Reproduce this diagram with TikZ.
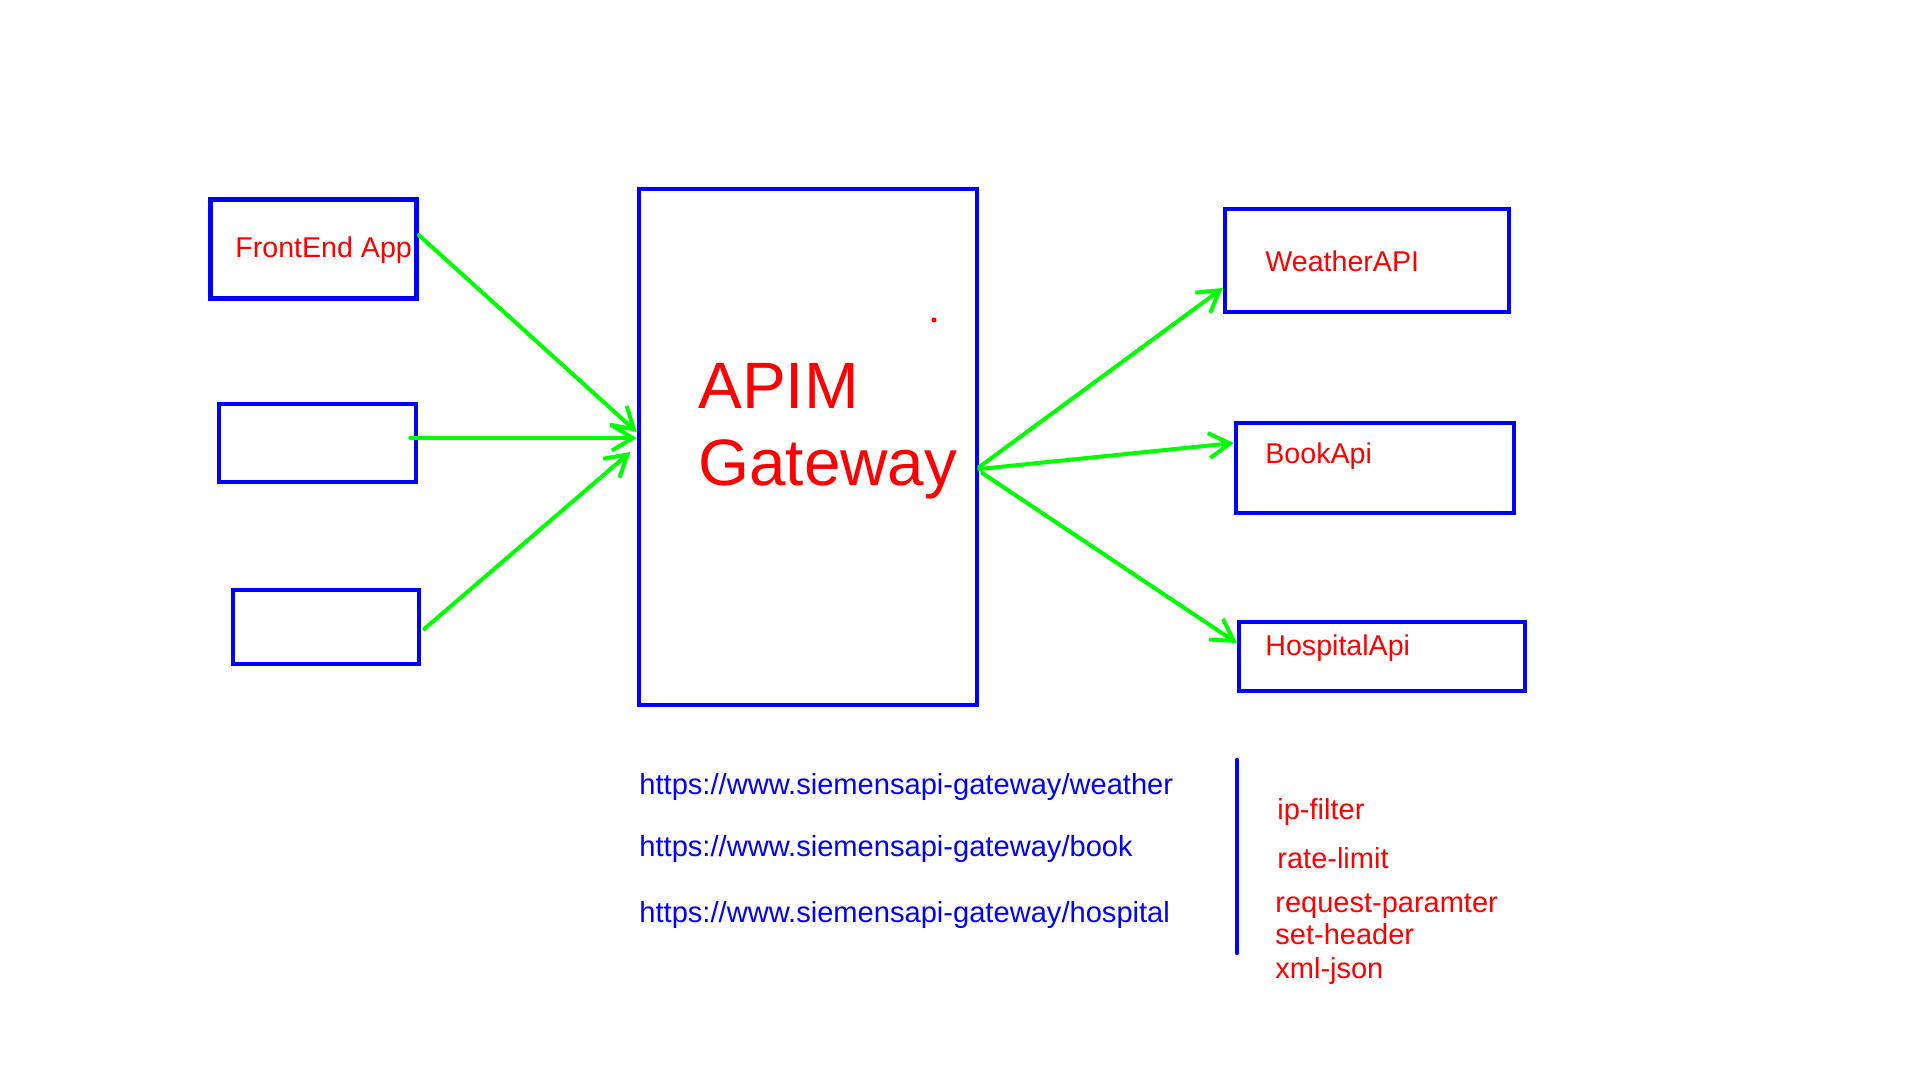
\documentclass[tikz,border=0pt]{standalone}
\usepackage{fontspec}
\setmainfont{Liberation Sans}
\usetikzlibrary{arrows.meta}

\begin{document}
\begin{tikzpicture}[x=0.5pt,y=-0.5pt,box/.style={draw=blue,line width=2.2pt,rectangle,inner sep=0pt},lbl/.style={text=red,font=\fontsize{14.3}{17}\selectfont,inner sep=0pt,anchor=base west},url/.style={text=blue,font=\fontsize{14.55}{17}\selectfont,inner sep=0pt,anchor=base west},policy/.style={text=red,font=\fontsize{14.5}{17}\selectfont,inner sep=0pt,anchor=base west},every edge/.style={draw=green,line width=2pt,line cap=round,-{Straight Barb[length=10.5pt,width=12.5pt]}}]
\useasboundingbox (0,0) rectangle (1920,1080);
% clients
\node[box,minimum width=103pt,minimum height=49.5pt] (fe) at (313.5,249) {};
\node[box,minimum width=98.5pt,minimum height=39pt] (cl2) at (317.5,443) {};
\node[box,minimum width=93pt,minimum height=37pt] (cl3) at (326,627) {};
\node[lbl] (felbl) at (235,258) {FrontEnd App};
% gateway
\node[box,minimum width=169pt,minimum height=258pt] (gw) at (808,447) {};
\node[text=red,font=\fontsize{32.8}{38.5}\selectfont,align=left,inner sep=0pt,anchor=base west] (gwlbl) at (698,485) {APIM\\Gateway};
\fill[red] (934,320) circle (1.25pt);
% backends
\node[box,minimum width=142pt,minimum height=51.5pt] (weather) at (1367,260.5) {};
\node[box,minimum width=139pt,minimum height=45pt] (book) at (1375,468) {};
\node[box,minimum width=143pt,minimum height=34.5pt] (hospital) at (1382,656.5) {};
\node[lbl] (weatherlbl) at (1265,272) {WeatherAPI};
\node[lbl] (booklbl) at (1265,463) {BookApi};
\node[lbl] (hospitallbl) at (1265,655) {HospitalApi};
% routes
\node[url] (urlweather) at (639,794) {https://www.siemensapi-gateway/weather};
\node[url] (urlbook) at (639,856) {https://www.siemensapi-gateway/book};
\node[url] (urlhospital) at (639,922) {https://www.siemensapi-gateway/hospital};
\draw[blue,line width=2.2pt,line cap=round] (1237,760) -- (1237,953);
\node[policy] (ipf) at (1277,819) {ip-filter};
\node[policy] (rate) at (1277,868) {rate-limit};
\node[policy] (reqp) at (1275,912) {request-paramter};
\node[policy] (seth) at (1275,944) {set-header};
\node[policy] (xmlj) at (1275,978) {xml-json};
% arrows
\path ([yshift=7pt]fe.east) edge ([yshift=7.5pt]gw.west);
\path ([xshift=-4pt,yshift=2.5pt]cl2.east) edge ([yshift=4.5pt]gw.west);
\path ([xshift=1.5pt,yshift=-1pt]cl3.east) edge ([xshift=-3.25pt,yshift=-2.5pt]gw.west);
\path ([yshift=-10pt]gw.east) edge ([yshift=-13.75pt]weather.west);
\path ([yshift=-11pt]gw.east) edge ([yshift=12.5pt]book.west);
\path ([xshift=1.5pt,yshift=-13pt]gw.east) edge ([yshift=6.75pt]hospital.west);
\end{tikzpicture}
\end{document}
